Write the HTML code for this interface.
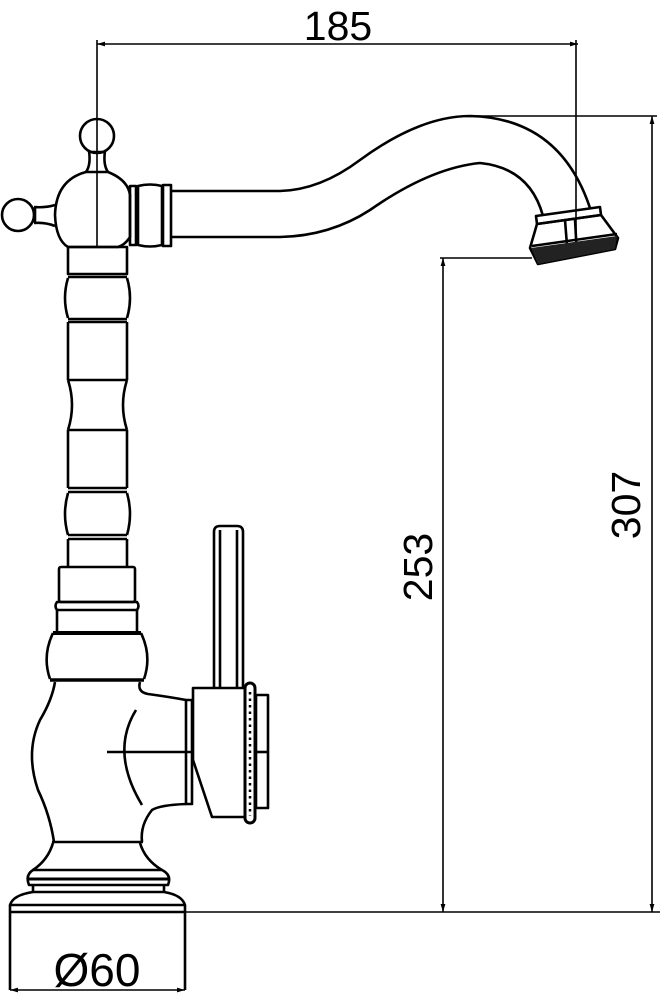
<!DOCTYPE html>
<html><head><meta charset="utf-8"><style>
html,body{margin:0;padding:0;background:#fff;}
svg{display:block;}
text{font-family:"Liberation Sans",sans-serif;fill:#000;}
</style></head><body>
<svg width="662" height="999" viewBox="0 0 662 999" xmlns="http://www.w3.org/2000/svg">
<defs>
<marker id="a" viewBox="0 0 10 10" refX="10" refY="5" markerWidth="8" markerHeight="8" orient="auto-start-reverse" markerUnits="userSpaceOnUse">
<path d="M0,2 L10,5 L0,8 z" fill="#000"/></marker>
</defs>
<g fill="none" stroke="#000" stroke-width="1.6">
<line x1="97" y1="44" x2="578" y2="44" marker-start="url(#a)" marker-end="url(#a)"/>
<line x1="97" y1="40" x2="97" y2="247"/>
<line x1="576" y1="40" x2="576" y2="256"/>
<line x1="470" y1="116" x2="657" y2="116"/>
<line x1="652" y1="116" x2="652" y2="912" marker-start="url(#a)" marker-end="url(#a)"/>
<line x1="185" y1="912" x2="660" y2="912"/>
<line x1="440" y1="258" x2="532" y2="258"/>
<line x1="443" y1="258" x2="443" y2="912" marker-start="url(#a)" marker-end="url(#a)"/>
<line x1="10" y1="990" x2="185" y2="990" marker-start="url(#a)" marker-end="url(#a)"/>
</g>
<text x="338" y="40" font-size="41" text-anchor="middle">185</text>
<text transform="translate(640,505) rotate(-90)" font-size="41" text-anchor="middle">307</text>
<text transform="translate(432,567) rotate(-90)" font-size="41" text-anchor="middle">253</text>
<text x="97" y="986" font-size="46" text-anchor="middle">Ø60</text>

<g fill="none" stroke="#000" stroke-width="2.6" stroke-linejoin="round">
<circle cx="97" cy="136" r="17"/>
<path d="M89,151 Q91,165 86,172 M105,151 Q103,165 108,172"/>
<line x1="88" y1="152" x2="106" y2="152"/>
<path d="M86,172 L108,172 Q128,180 130,195 L130,237 Q125,245 118,247 L68,247 Q56,240 55,215 Q56,180 86,172 Z"/>
<circle cx="18" cy="215" r="16"/>
<path d="M34,207 Q45,208 55,205 M34,223 Q45,222 55,226"/>
<line x1="35" y1="207" x2="35" y2="223"/>
<rect x="130" y="186" width="6" height="59"/>
<path d="M138,186 Q150,183 162,186 L162,245 Q150,248 138,245 Z"/>
<rect x="163" y="185" width="8" height="61"/>
<path d="M172,191 L280,191 Q320,190 360,160 Q420,116 470,116 Q560,118 590,208"/>
<path d="M172,237 L280,237 Q330,236 370,210 Q430,168 480,163 Q530,168 543,216"/>
<path d="M536,216 L600,207 L601,215 L537,224 Z"/>
<path d="M537,224 L601,215 L618,238 L615,249 L538,264 L530,248 Z"/>
<line x1="532" y1="246" x2="617" y2="234"/>
<line x1="534" y1="253" x2="616" y2="242"/>
<line x1="565" y1="220" x2="568" y2="258"/>
<line x1="575" y1="219" x2="577" y2="256"/>
<rect x="68" y="247" width="59" height="27"/>
<line x1="68" y1="277" x2="127" y2="277"/>
<path d="M68,278 Q62,298 68,318 M127,278 Q133,298 127,318"/>
<line x1="68" y1="319" x2="127" y2="319"/>
<line x1="68" y1="322" x2="127" y2="322"/>
<path d="M68,322 L68,380 M127,322 L127,380"/>
<line x1="68" y1="380" x2="127" y2="380"/>
<path d="M68,380 Q76,405 68,430 M127,380 Q119,405 127,430"/>
<line x1="68" y1="430" x2="127" y2="430"/>
<path d="M68,430 L68,488 M127,430 L127,488"/>
<line x1="68" y1="488" x2="127" y2="488"/>
<line x1="68" y1="492" x2="127" y2="492"/>
<path d="M68,493 Q62,514 68,535 M127,493 Q133,514 127,535"/>
<line x1="68" y1="535" x2="127" y2="535"/>
<line x1="68" y1="539" x2="127" y2="539"/>
<path d="M68,539 L68,567 M127,539 L127,567"/>
<rect x="59" y="567" width="76" height="35" rx="2"/>
<path d="M57,602 Q54,606 57,610 L137,610 Q140,606 137,602 Z"/>
<path d="M57,610 L57,633 M137,610 L137,633"/>
<line x1="53" y1="633" x2="141" y2="633" stroke-width="4"/>
<path d="M53,633 Q42,656 50,679 M141,633 Q152,656 144,679"/>
<line x1="50" y1="680" x2="144" y2="680" stroke-width="3.5"/>
<path d="M55,682 Q52,700 40,720 Q25,752 38,790 Q50,815 54,842"/>
<path d="M140,682 Q137,692 148,694 Q170,697 186,700"/>
<path d="M186,804 Q160,805 152,810 Q140,825 142,842"/>
<line x1="52" y1="842" x2="143" y2="842"/>
<path d="M136,710 Q110,752 142,805"/>
<line x1="107" y1="752" x2="192" y2="752"/>
<rect x="186" y="700" width="6" height="104"/>
<path d="M193,688 L245,688 L245,817 L212,817 L193,760 Z"/>
<rect x="245" y="683" width="10" height="140" rx="5" stroke-width="3"/>
<rect x="256" y="695" width="12" height="113"/>
<line x1="256" y1="752" x2="268" y2="752"/>
<path d="M214,688 L214,532 Q214,526 220,526 L237,526 Q243,526 243,532 L243,688"/>
<line x1="220" y1="530" x2="220" y2="688"/>
<line x1="237" y1="530" x2="237" y2="688"/>
<path d="M53,843 Q48,860 33,870 M140,843 Q145,860 162,870"/>
<path d="M33,870 Q25,875 29,885 L168,885 Q172,875 162,870 Z"/>
<line x1="29" y1="879" x2="168" y2="879" stroke-width="3"/>
<path d="M33,885 L33,892 M164,885 L164,892"/>
<path d="M33,892 L164,892 Q182,895 185,905 L185,990 M33,892 Q13,895 10,905 L10,990"/>
<line x1="10" y1="905" x2="185" y2="905"/>
<line x1="10" y1="912" x2="185" y2="912"/>
</g>
<path d="M531,248 L617,236 L615,249 L538,264 Z" fill="#222"/>
<line x1="250" y1="692" x2="250" y2="816" stroke="#000" stroke-width="2.5" stroke-dasharray="2.5,4"/>
</svg>
</body></html>
